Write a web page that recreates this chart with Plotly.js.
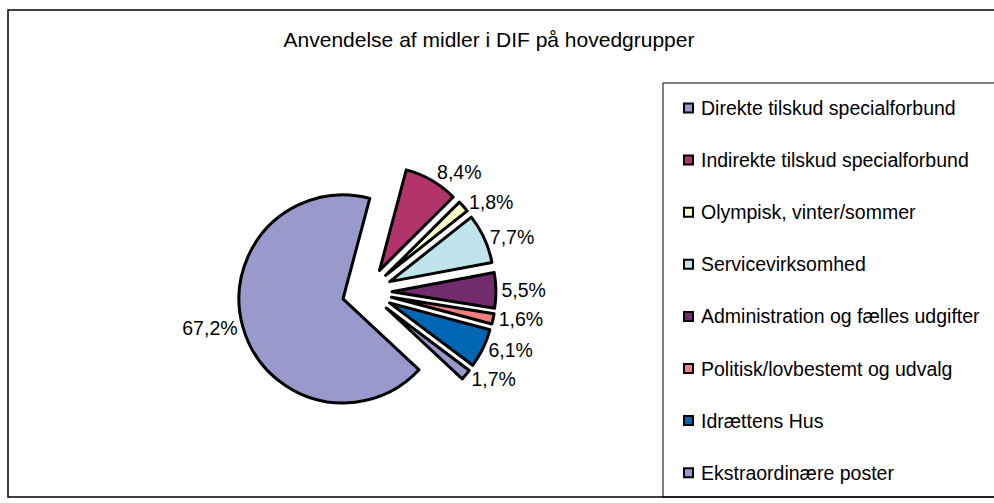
<!DOCTYPE html>
<html>
<head>
<meta charset="utf-8">
<script src="https://cdn.plot.ly/plotly-3.0.1.min.js"></script>
<style>
  html, body { margin: 0; padding: 0; background: #fff; }
  #chart { width: 994px; height: 503px; }
</style>
</head>
<body>
<div id="chart"></div>
<script>
// ---- data ----
const categories = [
  "Direkte tilskud specialforbund",
  "Indirekte tilskud specialforbund",
  "Olympisk, vinter/sommer",
  "Servicevirksomhed",
  "Administration og fælles udgifter",
  "Politisk/lovbestemt og udvalg",
  "Idrættens Hus",
  "Ekstraordinære poster"
];
const values = [67.2, 8.4, 1.8, 7.7, 5.5, 1.6, 6.1, 1.7];
const chartTitle = "Anvendelse af midler i DIF på hovedgrupper";

// ---- styles ----
const colors = ["#9999CC", "#B3336B", "#FFFFCC", "#BFE4EC", "#722C6E", "#F08080", "#0066B3", "#9999CC"];

const W = 994, H = 503;
const px = x => x / W;
const py = y => 1 - y / H;

// pie geometry (pixel space)
const cx = 367, cy = 292, r = 104, pullFrac = 0.24;
const half = r * (1 + pullFrac);

const trace = {
  type: "pie",
  labels: categories,
  values: values,
  sort: false,
  direction: "clockwise",
  rotation: 133,
  pull: values.map(() => pullFrac),
  marker: { colors: colors, line: { color: "#000", width: 3 } },
  textinfo: "percent",
  texttemplate: "%{percent:.1%}",
  textposition: "outside",
  outsidetextfont: { family: "Liberation Sans, Arial, sans-serif", size: 19.5, color: "#000" },
  domain: { x: [px(cx - half), px(cx + half)], y: [py(cy + half), py(cy - half)] },
  showlegend: false,
  hoverinfo: "label+percent"
};

// manual legend
const shapes = [
  { type: "rect", xref: "paper", yref: "paper", x0: px(8), x1: px(1000), y0: py(497), y1: py(10),
    line: { color: "#000", width: 1.5 }, fillcolor: "rgba(0,0,0,0)" },
  { type: "rect", xref: "paper", yref: "paper", x0: px(663), x1: px(1000), y0: py(497), y1: py(83),
    line: { color: "#000", width: 1 }, fillcolor: "rgba(0,0,0,0)" }
];
const annotations = [];
categories.forEach((c, i) => {
  const yc = 108 + 52.1 * i;
  shapes.push({ type: "rect", xref: "paper", yref: "paper",
    x0: px(684), x1: px(693), y0: py(yc + 4.5), y1: py(yc - 4.5),
    line: { color: "#000", width: 2 }, fillcolor: colors[i] });
  annotations.push({ xref: "paper", yref: "paper", x: px(699), y: py(yc), xanchor: "left", yanchor: "middle",
    text: c, showarrow: false,
    font: { family: "Liberation Sans, Arial, sans-serif", size: 19.5, color: "#000" } });
});

const layout = {
  width: W, height: H,
  margin: { l: 0, r: 0, t: 0, b: 0 },
  paper_bgcolor: "#fff",
  separators: ", ",
  title: { text: chartTitle, x: px(489), xanchor: "center", xref: "paper",
    y: py(40), yref: "container", yanchor: "middle",
    font: { family: "Liberation Sans, Arial, sans-serif", size: 21, color: "#000" } },
  shapes: shapes,
  annotations: annotations,
  showlegend: false
};

Plotly.newPlot("chart", [trace], layout, { displayModeBar: false, staticPlot: true });
</script>
</body>
</html>
